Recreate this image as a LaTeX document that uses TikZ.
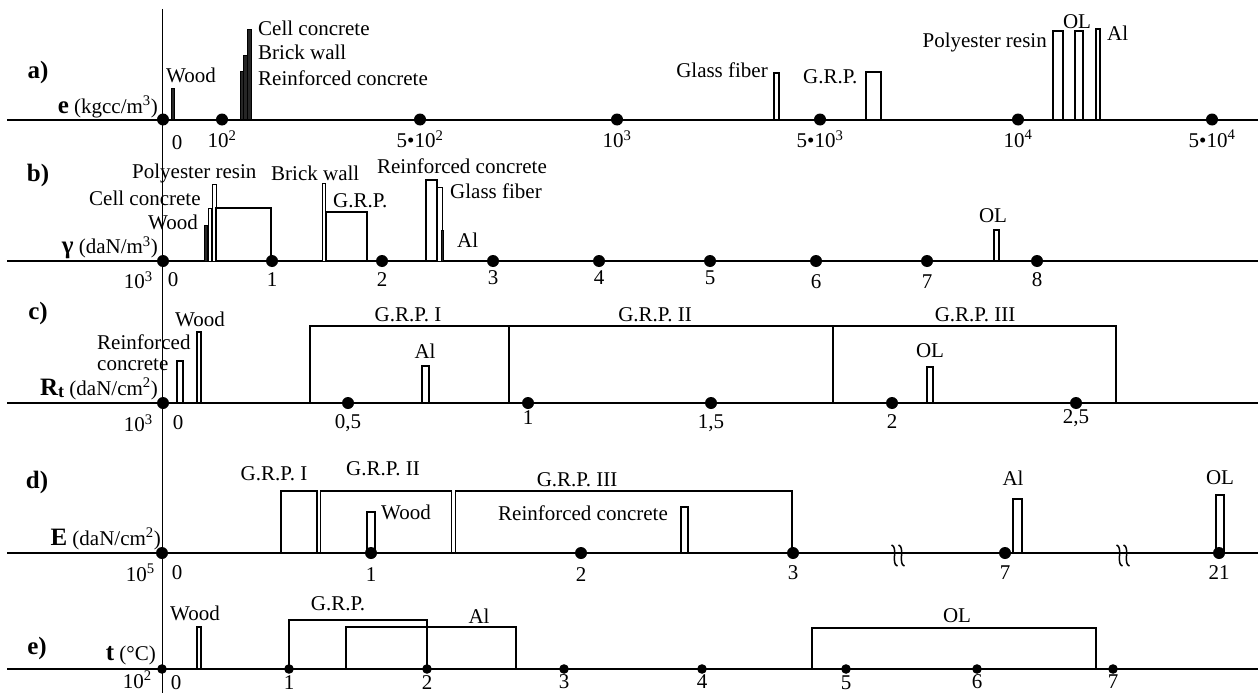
\documentclass[tikz,border=0pt]{standalone}
\usepackage{fontspec}
\setmainfont{Liberation Serif}
\begin{document}
\begin{tikzpicture}[x=1pt,y=-1pt,
  lbl/.style={font=\fontsize{21}{24}\selectfont, inner sep=0pt},
  plabel/.style={font=\bfseries\fontsize{25}{28}\selectfont, inner sep=0pt},
  axis/.style={line width=2pt},
  bar/.style={draw, line width=1.4pt, fill=white},
  thinbar/.style={draw, line width=1pt, fill=white},
  sbar/.style={draw, line width=0.8pt, fill=black!85},
  dotc/.style={fill=black}
]
\useasboundingbox (0,0) rectangle (1258,693);
\newcommand{\bsym}[1]{{\bfseries\fontsize{25}{28}\selectfont #1}}

% ===== panel a) =====
\draw[axis] (7,119.5) -- (1258,119.5);
\fill[sbar] (171,119.5) rectangle (174,88);
\fill[sbar] (240,119.5) rectangle (243,71);
\fill[sbar] (243,119.5) rectangle (247,55);
\fill[sbar] (247,119.5) rectangle (251,29);
\draw[bar] (774,119.5) rectangle (779,73);
\draw[bar] (866,119.5) rectangle (881,72);
\draw[bar] (1053,119.5) rectangle (1063,31);
\draw[bar] (1075,119.5) rectangle (1083,31);
\draw[bar] (1096,119.5) rectangle (1100,29);
\foreach \x in {163,222,420,617,820,1018,1212} \fill[dotc] (\x,119.5) circle (6pt);
\node[plabel] (pa) at (38,72) {a)};
\node[lbl, anchor=east] (ya) at (158,107) {\bsym{e} (kgcc/m\textsuperscript{3})};
\node[lbl] (a0) at (177,143) {0};
\node[lbl] (a1) at (222,139) {10\textsuperscript{2}};
\node[lbl] (a2) at (420,139) {5•10\textsuperscript{2}};
\node[lbl] (a3) at (617,139) {10\textsuperscript{3}};
\node[lbl] (a4) at (820,139) {5•10\textsuperscript{3}};
\node[lbl] (a5) at (1018,139) {10\textsuperscript{4}};
\node[lbl] (a6) at (1212,139) {5•10\textsuperscript{4}};
\node[lbl, anchor=west] (aw) at (166,75) {Wood};
\node[lbl, anchor=west] (acc) at (258,28) {Cell concrete};
\node[lbl, anchor=west] (abw) at (258,52) {Brick wall};
\node[lbl, anchor=west] (arc) at (258,78) {Reinforced concrete};
\node[lbl, anchor=east] (agf) at (768,70) {Glass fiber};
\node[lbl, anchor=west] (agrp) at (803,77) {G.R.P.};
\node[lbl, anchor=east] (apr) at (1047,42) {Polyester resin};
\node[lbl] (aol) at (1077,22) {OL};
\node[lbl, anchor=west] (aal) at (1107,33) {Al};

% ===== panel b) =====
\draw[axis] (7,261) -- (1258,261);
\fill[sbar] (204,261) rectangle (207,225);
\draw[thinbar] (208,261) rectangle (211,208);
\draw[thinbar] (212,261) rectangle (216,184);
\draw[bar] (216,261) rectangle (271,208);
\draw[thinbar] (322,261) rectangle (325,183);
\draw[bar] (326,261) rectangle (367,212);
\draw[bar] (426,261) rectangle (437,180);
\draw[thinbar] (437,261) rectangle (442,187);
\fill[sbar] (441,261) rectangle (443,230);
\draw[bar] (994,261) rectangle (999,230);
\foreach \x in {163,272,382,493,599,710,816,927,1037} \fill[dotc] (\x,261) circle (6pt);
\node[plabel] (pb) at (38,175) {b)};
\node[lbl, anchor=east] (yb) at (158,248) {\bsym{γ} (daN/m\textsuperscript{3})};
\node[lbl, anchor=east] (bu) at (153,280) {10\textsuperscript{3}};
\node[lbl] (b0) at (173,280) {0};
\node[lbl] (b1) at (272,280) {1};
\node[lbl] (b2) at (382,280) {2};
\node[lbl] (b3) at (493,278) {3};
\node[lbl] (b4) at (599,278) {4};
\node[lbl] (b5) at (710,278) {5};
\node[lbl] (b6) at (816,282) {6};
\node[lbl] (b7) at (927,282) {7};
\node[lbl] (b8) at (1037,280) {8};
\node[lbl, anchor=west] (bpr) at (132,173) {Polyester resin};
\node[lbl, anchor=west] (bbw) at (271,173) {Brick wall};
\node[lbl, anchor=west] (bcc) at (89,198) {Cell concrete};
\node[lbl, anchor=west] (bw) at (148,222) {Wood};
\node[lbl, anchor=west] (bgrp) at (333,201) {G.R.P.};
\node[lbl, anchor=east] (brc) at (547,166) {Reinforced concrete};
\node[lbl, anchor=west] (bgf) at (450,191) {Glass fiber};
\node[lbl, anchor=west] (bal) at (457,240) {Al};
\node[lbl] (bol) at (993,216) {OL};

% ===== panel c) =====
\draw[axis] (7,403) -- (1258,403);
\draw[bar] (177,403) rectangle (183,361);
\draw[bar] (197,403) rectangle (201,332);
\draw[bar] (422,403) rectangle (429,366);
\draw[bar] (927,403) rectangle (933,367);
\draw[line width=1.4pt] (310,403) -- (310,326) -- (1116,326) -- (1116,403);
\draw[line width=2.6pt] (509,326) -- (509,403);
\draw[line width=2.6pt] (833,326) -- (833,403);
\foreach \x in {163,348,528,711,892,1076} \fill[dotc] (\x,403) circle (6pt);
\node[plabel] (pc) at (38,313) {c)};
\node[lbl, anchor=east] (yc) at (158,389) {\bsym{R}\raisebox{-2pt}{\bfseries\fontsize{18}{20}\selectfont t} (daN/cm\textsuperscript{2})};
\node[lbl, anchor=east] (cu) at (153,423) {10\textsuperscript{3}};
\node[lbl] (c0) at (178,423) {0};
\node[lbl] (c1) at (348,423) {0,5};
\node[lbl] (c2) at (528,418) {1};
\node[lbl] (c3) at (711,423) {1,5};
\node[lbl] (c4) at (892,422) {2};
\node[lbl] (c5) at (1076,418) {2,5};
\node[lbl, anchor=west] (cw) at (175,319) {Wood};
\node[lbl, anchor=west] (crc1) at (97,342) {Reinforced};
\node[lbl, anchor=west] (crc2) at (97,365) {concrete};
\node[lbl] (cg1) at (408,315) {G.R.P. I};
\node[lbl] (cg2) at (655,315) {G.R.P. II};
\node[lbl] (cg3) at (975,315) {G.R.P. III};
\node[lbl] (cal) at (425,351) {Al};
\node[lbl] (col) at (930,351) {OL};

% ===== panel d) =====
\draw[axis] (7,553) -- (1258,553);
\draw[bar] (281,553) rectangle (317,491);
\draw[bar] (320.5,553) rectangle (451.5,491);
\draw[bar] (455.5,553) rectangle (792,491);
\draw[bar] (367,553) rectangle (375,512);
\draw[bar] (681,553) rectangle (688,507);
\draw[bar] (1013,553) rectangle (1022,499);
\draw[bar] (1216,553) rectangle (1224,495);
\foreach \x in {162,371,581,793,1005,1219} \fill[dotc] (\x,553) circle (6pt);
\foreach \x in {894.5,901.5,1119.5,1126.5}
  \draw[line width=1.5pt] (\x-3,545) .. controls (\x+4,547) and (\x-4,564) .. (\x+3,566);
\node[plabel] (pd) at (37,482) {d)};
\node[lbl, anchor=east] (yd) at (161,539) {\bsym{E} (daN/cm\textsuperscript{2})};
\node[lbl, anchor=east] (du) at (155,573) {10\textsuperscript{5}};
\node[lbl] (d0) at (177,573) {0};
\node[lbl] (d1) at (371,575) {1};
\node[lbl] (d2) at (581,575) {2};
\node[lbl] (d3) at (793,573) {3};
\node[lbl] (d4) at (1005,573) {7};
\node[lbl] (d5) at (1219,573) {21};
\node[lbl] (dg1) at (274,474) {G.R.P. I};
\node[lbl] (dg2) at (383,469) {G.R.P. II};
\node[lbl] (dg3) at (577,480) {G.R.P. III};
\node[lbl, anchor=west] (dw) at (381,512) {Wood};
\node[lbl] (drc) at (583,513) {Reinforced concrete};
\node[lbl] (dal) at (1013,478) {Al};
\node[lbl] (dol) at (1220,478) {OL};

% ===== panel e) =====
\draw[axis] (7,669) -- (1258,669);
\draw[bar] (197,669) rectangle (201,627);
\draw[line width=1.4pt] (289,669) rectangle (427,620);
\draw[line width=1.6pt] (346,669) rectangle (516,627);
\draw[line width=1.6pt] (812,669) rectangle (1096,628);
\foreach \x in {162,289,427,564,702,846,977,1113} \fill[dotc] (\x,669) circle (4.8pt);
\node[plabel] (pe) at (37,648) {e)};
\node[lbl, anchor=east] (ye) at (156,655) {\bsym{t} (°C)};
\node[lbl, anchor=base east] (eu) at (152,688.5) {10\textsuperscript{2}};
\node[lbl] (e0) at (176,683) {0};
\node[lbl] (e1) at (289,683) {1};
\node[lbl] (e2) at (427,683) {2};
\node[lbl] (e3) at (564,682) {3};
\node[lbl] (e4) at (702,682) {4};
\node[lbl] (e5) at (846,683) {5};
\node[lbl] (e6) at (977,682) {6};
\node[lbl] (e7) at (1113,682) {7};
\node[lbl] (ew) at (195,613) {Wood};
\node[lbl] (eg) at (338,604) {G.R.P.};
\node[lbl] (eal) at (479,616) {Al};
\node[lbl] (eol) at (957,616) {OL};

% vertical axis
\draw[line width=1.5pt] (162.5,9) -- (162.5,693);
\end{tikzpicture}
\end{document}
